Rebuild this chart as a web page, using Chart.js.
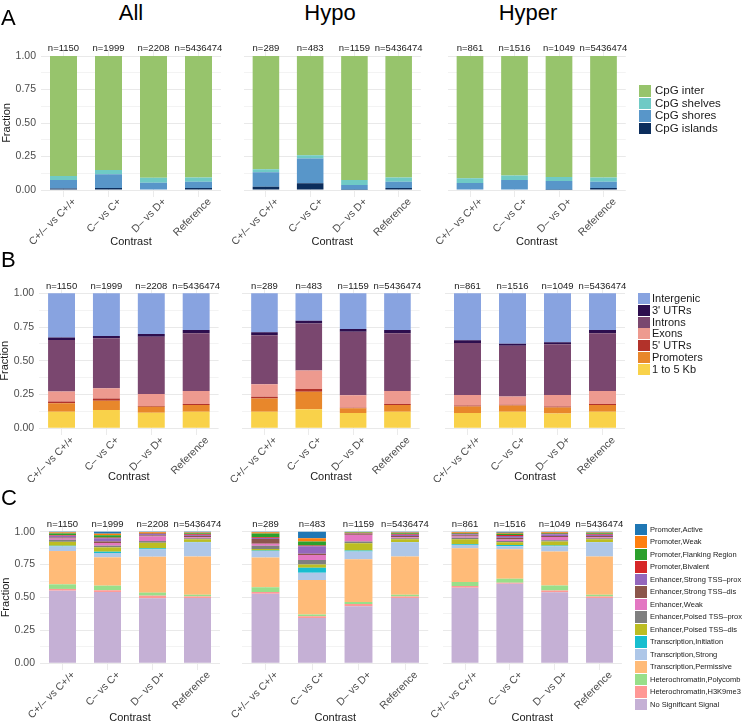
<!DOCTYPE html>
<html><head><meta charset="utf-8">
<script src="https://cdn.jsdelivr.net/npm/chart.js@4.4.1/dist/chart.umd.min.js"></script>
<style>
html,body{margin:0;padding:0;background:#fff;}
body{width:744px;height:723px;overflow:hidden;position:relative;font-family:'Liberation Sans',Arial,sans-serif;}
.t{position:absolute;white-space:nowrap;color:#000;}
.key{position:absolute;}
</style></head><body>
<script>
// ---------- DATA ----------
const groups = ["All", "Hypo", "Hyper"];
const contrasts = ["C+/\u2013 vs C+/+", "C\u2013 vs C+", "D\u2013 vs D+", "Reference"];
const nAll = [1150, 1999, 2208, 5436474];
const nHypo = [289, 483, 1159, 5436474];
const nHyper = [861, 1516, 1049, 5436474];
const yTickValues = [0, 0.25, 0.5, 0.75, 1];
const yTickLabels = ["0.00", "0.25", "0.50", "0.75", "1.00"];
const yMinorValues = [0.125, 0.375, 0.625, 0.875];

// Panel A: CpG context (rows = series, cols = contrasts)
const cpgLabels = ["CpG inter", "CpG shelves", "CpG shores", "CpG islands"];
const cpgAll = [
  [0.896, 0.851, 0.908, 0.906],
  [0.029, 0.032, 0.037, 0.032],
  [0.063, 0.102, 0.052, 0.047],
  [0.012, 0.015, 0.003, 0.015]];
const cpgHypo = [
  [0.846, 0.741, 0.925, 0.906],
  [0.022, 0.023, 0.038, 0.032],
  [0.107, 0.186, 0.035, 0.047],
  [0.025, 0.050, 0.002, 0.015]];
const cpgHyper = [
  [0.913, 0.891, 0.903, 0.906],
  [0.035, 0.034, 0.030, 0.032],
  [0.049, 0.072, 0.065, 0.047],
  [0.003, 0.003, 0.002, 0.015]];

// Panel B: genomic features
const genLabels = ["Intergenic", "3' UTRs", "Introns", "Exons", "5' UTRs", "Promoters", "1 to 5 Kb"];
const genAll = [
  [0.328, 0.316, 0.301, 0.272],
  [0.018, 0.017, 0.020, 0.024],
  [0.382, 0.371, 0.425, 0.427],
  [0.074, 0.076, 0.089, 0.097],
  [0.013, 0.015, 0.005, 0.007],
  [0.062, 0.069, 0.044, 0.050],
  [0.123, 0.136, 0.116, 0.123]];
const genHypo = [
  [0.289, 0.204, 0.264, 0.272],
  [0.022, 0.020, 0.020, 0.024],
  [0.363, 0.348, 0.472, 0.427],
  [0.092, 0.137, 0.092, 0.097],
  [0.013, 0.020, 0.003, 0.007],
  [0.099, 0.129, 0.035, 0.050],
  [0.122, 0.142, 0.114, 0.123]];
const genHyper = [
  [0.348, 0.373, 0.363, 0.272],
  [0.020, 0.015, 0.015, 0.024],
  [0.386, 0.376, 0.376, 0.427],
  [0.077, 0.062, 0.084, 0.097],
  [0.007, 0.005, 0.008, 0.007],
  [0.048, 0.047, 0.045, 0.050],
  [0.114, 0.122, 0.109, 0.123]];

// Panel C: chromatin states
const chromLabels = ["Promoter,Active", "Promoter,Weak", "Promoter,Flanking Region", "Promoter,Bivalent",
  "Enhancer,Strong TSS\u2013prox", "Enhancer,Strong TSS\u2013dis", "Enhancer,Weak", "Enhancer,Poised TSS\u2013prox",
  "Enhancer,Poised TSS\u2013dis", "Transcription,Initiation", "Transcription,Strong", "Transcription,Permissive",
  "Heterochromatin,Polycomb", "Heterochromatin,H3K9me3", "No Significant Signal"];
const chromAll = [
  [0.005, 0.015, 0.004, 0.006],
  [0.008, 0.012, 0.006, 0.006],
  [0.013, 0.018, 0.004, 0.006],
  [0.005, 0.005, 0.004, 0.006],
  [0.013, 0.024, 0.010, 0.008],
  [0.008, 0.012, 0.008, 0.010],
  [0.010, 0.020, 0.035, 0.008],
  [0.015, 0.013, 0.013, 0.008],
  [0.030, 0.033, 0.042, 0.020],
  [0.005, 0.010, 0.008, 0.003],
  [0.035, 0.033, 0.056, 0.107],
  [0.253, 0.215, 0.273, 0.291],
  [0.035, 0.035, 0.023, 0.013],
  [0.013, 0.013, 0.020, 0.012],
  [0.552, 0.542, 0.494, 0.496]];
const chromHypo = [
  [0.005, 0.050, 0.003, 0.006],
  [0.008, 0.025, 0.004, 0.006],
  [0.030, 0.030, 0.004, 0.006],
  [0.005, 0.005, 0.004, 0.006],
  [0.008, 0.058, 0.005, 0.008],
  [0.035, 0.010, 0.005, 0.010],
  [0.015, 0.038, 0.050, 0.008],
  [0.025, 0.033, 0.013, 0.008],
  [0.012, 0.025, 0.055, 0.020],
  [0.003, 0.038, 0.008, 0.003],
  [0.050, 0.055, 0.058, 0.107],
  [0.227, 0.263, 0.325, 0.291],
  [0.036, 0.013, 0.015, 0.013],
  [0.013, 0.012, 0.018, 0.012],
  [0.528, 0.345, 0.433, 0.496]];
const chromHyper = [
  [0.004, 0.008, 0.004, 0.006],
  [0.006, 0.008, 0.006, 0.006],
  [0.006, 0.010, 0.006, 0.006],
  [0.004, 0.006, 0.004, 0.006],
  [0.008, 0.015, 0.012, 0.008],
  [0.008, 0.012, 0.008, 0.010],
  [0.010, 0.012, 0.025, 0.008],
  [0.012, 0.010, 0.010, 0.008],
  [0.038, 0.020, 0.030, 0.020],
  [0.005, 0.010, 0.006, 0.003],
  [0.025, 0.022, 0.040, 0.107],
  [0.257, 0.224, 0.258, 0.291],
  [0.030, 0.030, 0.038, 0.013],
  [0.013, 0.008, 0.013, 0.012],
  [0.574, 0.605, 0.540, 0.496]];

// ---------- STYLES ----------
const cpgColors = ["#97c46c", "#6fcac5", "#5896c9", "#0b2d5c"];
const genColors = ["#88a3e0", "#2d0e4e", "#7a476f", "#ed9a8f", "#b2322a", "#e8872b", "#f9d24a"];
const chromColors = ["#1f77b4", "#ff7f0e", "#2ca02c", "#d62728", "#9467bd", "#8c564b", "#e377c2", "#7f7f7f",
  "#bcbd22", "#17becf", "#aec7e8", "#ffbb78", "#98df8a", "#ff9896", "#c5b0d5"];

const FONT = "'Liberation Sans', Arial, sans-serif";
Chart.defaults.font.family = FONT;

const nSets = [nAll, nHypo, nHyper];
const rows = [
  {labels: cpgLabels, colors: cpgColors, data: [cpgAll, cpgHypo, cpgHyper], top: 49.3, h: 147.4, bottom: 247, nOff: -8,
   cols: [[41, 180], [243.8, 177], [447.75, 178]],
   legend: {x: 639, y: 85, pitch: 12.5, kw: 12, kh: 11.5, fs: 11.5, tx: 655}},
  {labels: genLabels, colors: genColors, data: [genAll, genHypo, genHyper], top: 286.55, h: 148.5, bottom: 482, nOff: -6.8,
   cols: [[39.1, 179.5], [242.3, 177.3], [445, 180]],
   legend: {x: 638, y: 293, pitch: 11.8, kw: 12, kh: 11, fs: 11, tx: 652}},
  {labels: chromLabels, colors: chromColors, data: [chromAll, chromHypo, chromHyper], top: 525.1, h: 144.8, bottom: 723, nOff: -7.2,
   cols: [[40, 180], [242.25, 186], [442.6, 179.3]],
   legend: {x: 635, y: 523.5, pitch: 12.53, kw: 12, kh: 11.5, fs: 7.5, tx: 650}}
];

// plugin: sample-size labels above each bar, positioned through the chart's scales
const nLabelPlugin = {
  id: 'nLabels',
  afterDraw(chart, args, opts) {
    const {ctx, scales: {x, y}} = chart;
    ctx.save();
    ctx.font = `9.5px ${FONT}`;
    ctx.fillStyle = '#1a1a1a';
    ctx.textAlign = 'center';
    ctx.textBaseline = 'middle';
    opts.values.forEach((n, i) => {
      ctx.fillText('n=' + n, x.getPixelForValue(i), y.getPixelForValue(1) + opts.offset);
    });
    ctx.restore();
  }
};

function addText(txt, css) {
  const d = document.createElement('div');
  d.className = 't';
  d.textContent = txt;
  d.style.cssText += css;
  document.body.appendChild(d);
  return d;
}

function makePanel(row, ci) {
  const [pl, pw] = row.cols[ci];
  const yW = 40, R = 30, topH = 22;
  const cl = Math.floor(pl - yW);
  const yw = pl - cl;
  const ct = Math.floor(row.top - topH);
  const th = row.top - ct;
  const W = Math.ceil(yw + pw + R);
  const rPad = W - yw - pw;
  const H = Math.round(row.bottom - ct);
  const bh = H - th - row.h;
  const cv = document.createElement('canvas');
  cv.width = W; cv.height = H;
  cv.style.cssText = `position:absolute;left:${cl}px;top:${ct}px;width:${W}px;height:${H}px;`;
  document.body.appendChild(cv);
  const series = row.data[ci];
  const datasets = row.labels.map((lab, i) => ({
    label: lab, data: series[i], backgroundColor: row.colors[i], borderWidth: 0,
    categoryPercentage: 1, barPercentage: 0.6
  })).reverse();
  const allY = yTickValues.concat(yMinorValues).sort((a, b) => a - b);
  new Chart(cv, {
    type: 'bar',
    data: {labels: contrasts, datasets},
    plugins: [nLabelPlugin],
    options: {
      responsive: false, animation: false, devicePixelRatio: 1,
      layout: {padding: {left: 0, top: th, bottom: 0, right: rPad}},
      plugins: {legend: {display: false}, tooltip: {enabled: false},
        nLabels: {values: nSets[ci], offset: row.nOff}},
      scales: {
        x: {
          type: 'category', position: 'bottom', stacked: true, offset: true,
          grid: {display: true, offset: false, drawTicks: false, color: '#ebebeb', lineWidth: 1},
          border: {display: false},
          ticks: {autoSkip: false, maxRotation: 45, minRotation: 45, padding: -1, labelOffset: 11, color: '#4d4d4d', font: {size: 10.5}},
          title: {display: true, text: 'Contrast', color: '#1a1a1a', font: {size: 11, lineHeight: 1}, padding: 0},
          afterFit: s => { s.height = bh; }
        },
        y: {
          type: 'linear', position: 'left', stacked: true, min: -0.05, max: 1.05,
          afterBuildTicks: s => { s.ticks = allY.map(v => ({value: v})); },
          ticks: {display: ci === 0, padding: 5, color: '#4d4d4d', font: {size: 10.5},
            callback: v => { const k = yTickValues.indexOf(v); return k >= 0 ? yTickLabels[k] : ''; }},
          grid: {drawTicks: false,
            color: c => (c.tick && yTickValues.includes(c.tick.value)) ? '#e9e9e9' : '#f3f3f3',
            lineWidth: 1},
          border: {display: false},
          title: {display: ci === 0, text: 'Fraction', color: '#1a1a1a', font: {size: 11, lineHeight: 1}, padding: 0},
          afterFit: s => { s.width = yw; }
        }
      }
    }
  });
}

function makeLegend(row) {
  const L = row.legend;
  row.labels.forEach((lab, i) => {
    const k = document.createElement('div');
    k.className = 'key';
    const y = L.y + i * L.pitch;
    k.style.cssText = `left:${L.x}px;top:${y}px;width:${L.kw}px;height:${L.kh}px;background:${row.colors[i]};`;
    document.body.appendChild(k);
    const cy = y + L.kh / 2;
    addText(lab, `left:${L.tx}px;top:${cy - L.fs / 2}px;font-size:${L.fs}px;line-height:${L.fs}px;color:#1a1a1a;`);
  });
}

rows.forEach(r => { [0, 1, 2].forEach(ci => makePanel(r, ci)); makeLegend(r); });

// panel letters and column titles
const panelLetters = ["A", "B", "C"];
const letterTops = [7.3, 248.9, 486.8];
panelLetters.forEach((p, i) => addText(p, `left:1px;top:${letterTops[i]}px;font-size:22px;line-height:22px;`));
const titleCenters = [131, 330, 528];
groups.forEach((g, i) => addText(g, `left:${titleCenters[i] - 60}px;width:120px;text-align:center;top:1.8px;font-size:22px;line-height:22px;`));
</script>
</body></html>
